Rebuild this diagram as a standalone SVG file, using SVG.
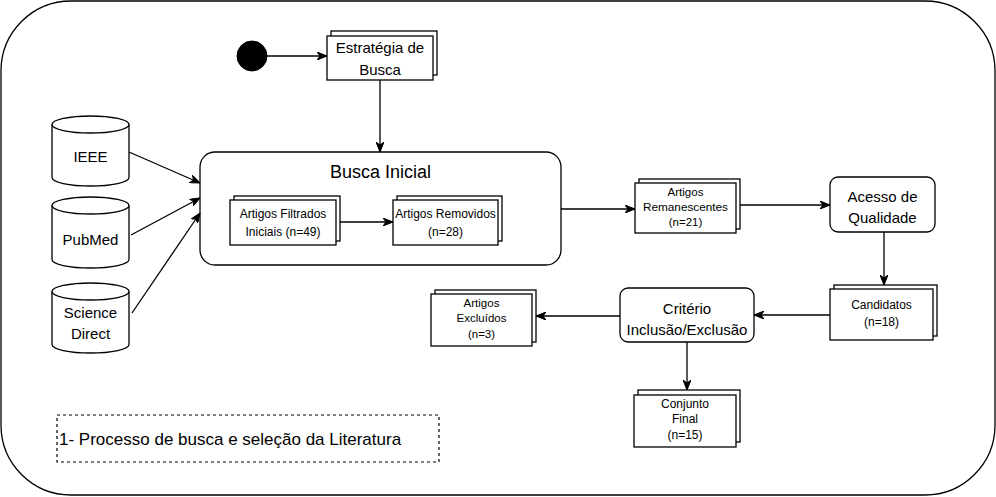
<svg xmlns="http://www.w3.org/2000/svg" width="996" height="497" viewBox="0 0 996 497">
<style>
.s{fill:#fff;stroke:#000;stroke-width:1.3}
.e{fill:none;stroke:#000;stroke-width:1.3}
text{font-family:"Liberation Sans",Arial,Helvetica,sans-serif;fill:#000;text-anchor:middle}
.f15{font-size:15px}
.f12{font-size:12px}
.f11{font-size:11.5px}
.c line,.c path{stroke:#000;stroke-width:1.3;fill:none;marker-end:url(#ah)}
</style>
<defs>
<marker id="ah" viewBox="0 0 10 8" refX="10" refY="4" markerWidth="10" markerHeight="8" markerUnits="userSpaceOnUse" orient="auto">
<path d="M0,0 L10,4 L0,8 L3,4 Z" fill="#000" stroke="#000" stroke-width="1"/>
</marker>
</defs>
<rect x="1" y="1" width="994" height="494" rx="70" ry="70" fill="#fff" stroke="#000" stroke-width="1.3"/>

<g id="inicio"><circle cx="252" cy="56" r="15" fill="#000" stroke="#000"/></g>

<g id="estrategia">
<rect class="s" x="331" y="31" width="106" height="44"/>
<rect class="s" x="327" y="36" width="106" height="44"/>
<text class="f15" x="380" y="53">Estratégia de</text>
<text class="f15" x="380" y="75">Busca</text>
</g>

<g id="ieee">
<path class="s" d="M52,124.5 A38.5,8.5 0 0 1 129,124.5 V177.5 A38.5,8.5 0 0 1 52,177.5 Z"/>
<path class="e" d="M52,124.5 A38.5,8.5 0 0 0 129,124.5"/>
<text class="f15" x="90.5" y="162">IEEE</text>
</g>
<g id="pubmed">
<path class="s" d="M52,205.5 A38.5,8.5 0 0 1 129,205.5 V259.5 A38.5,8.5 0 0 1 52,259.5 Z"/>
<path class="e" d="M52,205.5 A38.5,8.5 0 0 0 129,205.5"/>
<text class="f15" x="90.5" y="245">PubMed</text>
</g>
<g id="sciencedirect">
<path class="s" d="M52,291.5 A38.5,8.5 0 0 1 129,291.5 V344.5 A38.5,8.5 0 0 1 52,344.5 Z"/>
<path class="e" d="M52,291.5 A38.5,8.5 0 0 0 129,291.5"/>
<text class="f15" x="90.5" y="318">Science</text>
<text class="f15" x="90.5" y="339">Direct</text>
</g>

<g id="busca-inicial">
<rect class="s" x="200" y="152" width="361" height="113" rx="15" ry="15"/>
<text x="380.5" y="178" style="font-size:18px">Busca Inicial</text>
</g>

<g id="filtrados">
<rect class="s" x="234" y="196" width="106" height="45"/>
<rect class="s" x="230" y="200" width="106" height="45"/>
<text class="f12" x="283" y="218">Artigos Filtrados</text>
<text class="f12" x="283" y="236">Iniciais (n=49)</text>
</g>

<g id="removidos">
<rect class="s" x="397" y="196" width="105" height="45"/>
<rect class="s" x="393" y="200" width="105" height="45"/>
<text class="f12" x="445.5" y="218">Artigos Removidos</text>
<text class="f12" x="445.5" y="236">(n=28)</text>
</g>

<g id="remanescentes">
<rect class="s" x="639" y="179" width="101" height="50"/>
<rect class="s" x="635" y="183" width="101" height="50"/>
<text class="f11" x="685.5" y="196">Artigos</text>
<text class="f11" x="685.5" y="211" textLength="85" lengthAdjust="spacingAndGlyphs">Remanescentes</text>
<text class="f11" x="685.5" y="226">(n=21)</text>
</g>

<g id="acesso">
<rect class="s" x="830" y="177" width="105" height="55" rx="8" ry="8"/>
<text class="f15" x="882.5" y="202">Acesso de</text>
<text class="f15" x="882.5" y="223">Qualidade</text>
</g>

<g id="candidatos">
<rect class="s" x="834" y="285" width="103" height="51"/>
<rect class="s" x="830" y="289" width="103" height="51"/>
<text class="f12" x="881.5" y="309">Candidatos</text>
<text class="f12" x="881.5" y="326">(n=18)</text>
</g>

<g id="criterio">
<rect class="s" x="620" y="288" width="134" height="54" rx="8" ry="8"/>
<text class="f15" x="687" y="314">Critério</text>
<text class="f15" x="687" y="335">Inclusão/Exclusão</text>
</g>

<g id="excluidos">
<rect class="s" x="435" y="290" width="101" height="52"/>
<rect class="s" x="431" y="294" width="101" height="52"/>
<text class="f11" x="481.5" y="307">Artigos</text>
<text class="f11" x="481.5" y="322">Excluídos</text>
<text class="f11" x="481.5" y="338">(n=3)</text>
</g>

<g id="conjunto">
<rect class="s" x="638" y="390" width="102" height="52"/>
<rect class="s" x="634" y="395" width="102" height="52"/>
<text class="f12" x="685" y="408">Conjunto</text>
<text class="f12" x="685" y="423">Final</text>
<text class="f12" x="685" y="439">(n=15)</text>
</g>

<g id="legenda">
<rect x="57" y="415" width="382" height="47" fill="none" stroke="#000" stroke-width="1.2" stroke-dasharray="3 3"/>
<text x="59" y="445" style="font-size:17px;text-anchor:start">1- Processo de busca e seleção da Literatura</text>
</g>

<g id="connectors" class="c">
<line x1="267" y1="56" x2="327" y2="56"/>
<line x1="380" y1="80" x2="380" y2="152"/>
<line x1="129" y1="152" x2="200" y2="183"/>
<line x1="131" y1="235" x2="200" y2="198"/>
<line x1="132" y1="313" x2="200" y2="213"/>
<line x1="340" y1="222" x2="393" y2="222"/>
<line x1="561" y1="209" x2="635" y2="209"/>
<line x1="740" y1="205" x2="830" y2="205"/>
<line x1="884" y1="232" x2="884" y2="285"/>
<line x1="830" y1="315" x2="754" y2="315"/>
<line x1="620" y1="316" x2="536" y2="316"/>
<line x1="687" y1="342" x2="687" y2="390"/>
</g>
</svg>
